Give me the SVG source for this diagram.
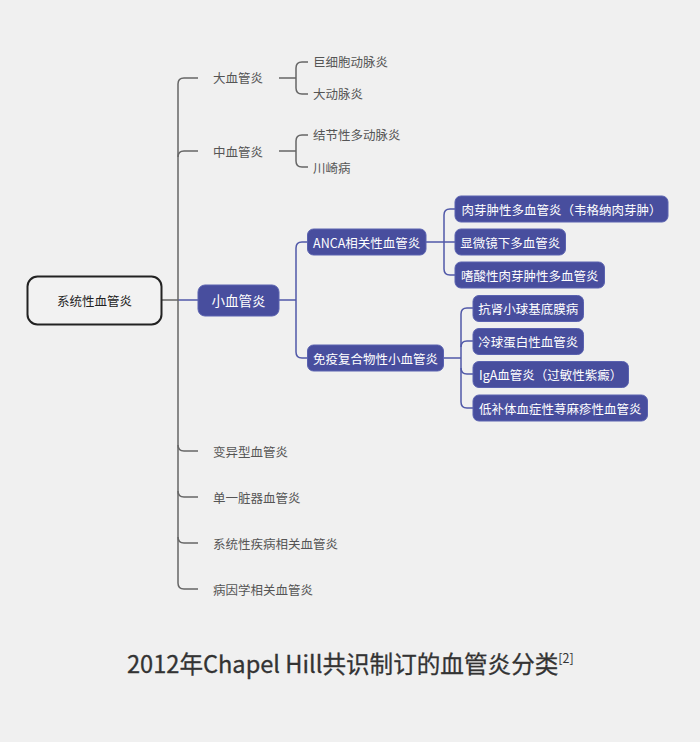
<svg xmlns="http://www.w3.org/2000/svg" width="700" height="742" viewBox="0 0 700 742">
<style>
.t{font-family:"Noto Sans CJK SC","Noto Sans",sans-serif;font-size:12.5px;fill:#555;dominant-baseline:central}
.w{font-family:"Noto Sans CJK SC","Noto Sans",sans-serif;font-size:12.5px;fill:#fff;dominant-baseline:central;text-anchor:middle}
.b{fill:#484e9e;stroke:#5a62b0;stroke-width:1}
.g{fill:none;stroke:#666;stroke-width:1.5}
.bl{fill:none;stroke:#5058a8;stroke-width:1.5}
</style>
<rect width="700" height="742" fill="#f0f0f0"/>
<g id="connectors">
<path class="g" d="M162,300H178"/>
<path class="bl" d="M178,300H198"/>
<path class="g" d="M198,78H184Q178,78 178,84V583Q178,589 184,589H198"/>
<path class="g" d="M178,157Q178,151 184,151H198"/>
<path class="g" d="M178,445Q178,451 184,451H198"/>
<path class="g" d="M178,491Q178,497 184,497H198"/>
<path class="g" d="M178,537Q178,543 184,543H198"/>
<path class="g" d="M279,78H296"/>
<path class="g" d="M308,62H302Q296,62 296,68V88Q296,94 302,94H308"/>
<path class="g" d="M279,151H296"/>
<path class="g" d="M308,135H302Q296,135 296,141V161Q296,167 302,167H308"/>
<path class="bl" d="M279,300H296"/>
<path class="bl" d="M307.5,242H302Q296,242 296,248V352Q296,358 302,358H307.5"/>
<path class="bl" d="M426,242H455"/>
<path class="bl" d="M455,209H450Q444,209 444,215V269Q444,275 450,275H455"/>
<path class="bl" d="M444,358H461"/>
<path class="bl" d="M473,308H467Q461,308 461,314V402Q461,408 467,408H473"/>
<path class="bl" d="M461,347Q461,341 467,341H473"/>
<path class="bl" d="M461,368Q461,374 467,374H473"/>
</g>
<g id="root"><rect x="27.5" y="276.5" width="134" height="48" rx="10" fill="#f2f2f2" stroke="#222" stroke-width="2"/><text class="t" x="94.5" y="300.5" text-anchor="middle" style="fill:#222">系统性血管炎</text></g>
<g id="n-large"><text class="t" x="213" y="77">大血管炎</text></g>
<g id="n-gca"><text class="t" x="313" y="61">巨细胞动脉炎</text></g>
<g id="n-takayasu"><text class="t" x="313" y="93">大动脉炎</text></g>
<g id="n-medium"><text class="t" x="213" y="151">中血管炎</text></g>
<g id="n-pan"><text class="t" x="313" y="134">结节性多动脉炎</text></g>
<g id="n-kawasaki"><text class="t" x="313" y="167">川崎病</text></g>
<g id="n-small"><rect class="b" x="198" y="285" width="81" height="31" rx="7"/><text class="w" x="238.5" y="300" style="font-size:13.5px">小血管炎</text></g>
<g id="n-anca"><rect class="b" x="307.5" y="229" width="118.5" height="26" rx="6"/><text class="w" x="366.7" y="242">ANCA相关性血管炎</text></g>
<g id="n-gpa"><rect class="b" x="455" y="196" width="213" height="26" rx="6"/><text class="w" x="561.5" y="209">肉芽肿性多血管炎（韦格纳肉芽肿）</text></g>
<g id="n-mpa"><rect class="b" x="455" y="229" width="110.5" height="26" rx="6"/><text class="w" x="510.2" y="242">显微镜下多血管炎</text></g>
<g id="n-egpa"><rect class="b" x="455" y="262" width="149.5" height="26" rx="6"/><text class="w" x="529.7" y="275">嗜酸性肉芽肿性多血管炎</text></g>
<g id="n-immune"><rect class="b" x="307.5" y="345" width="136" height="26" rx="6"/><text class="w" x="375.5" y="358">免疫复合物性小血管炎</text></g>
<g id="n-gbm"><rect class="b" x="473" y="295.5" width="110.5" height="26" rx="6"/><text class="w" x="528.2" y="308.5">抗肾小球基底膜病</text></g>
<g id="n-cryo"><rect class="b" x="473" y="328.5" width="110.5" height="26" rx="6"/><text class="w" x="528.2" y="341.5">冷球蛋白性血管炎</text></g>
<g id="n-iga"><rect class="b" x="473" y="361.5" width="155.5" height="26" rx="6"/><text class="w" x="550.7" y="374.5">IgA血管炎（过敏性紫癜）</text></g>
<g id="n-huv"><rect class="b" x="473" y="395" width="174.5" height="26" rx="6"/><text class="w" x="560.2" y="408">低补体血症性荨麻疹性血管炎</text></g>
<g id="n-variable"><text class="t" x="213" y="451">变异型血管炎</text></g>
<g id="n-single"><text class="t" x="213" y="497">单一脏器血管炎</text></g>
<g id="n-systemic"><text class="t" x="213" y="543">系统性疾病相关血管炎</text></g>
<g id="n-etiology"><text class="t" x="213" y="589">病因学相关血管炎</text></g>
<text x="127" y="673" font-family="Noto Sans CJK SC,Noto Sans,sans-serif" font-size="23.6" fill="#333" stroke="#333" stroke-width="0.3">2012年Chapel Hill共识制订的血管炎分类<tspan font-size="12.5" dy="-10" stroke-width="0">[2]</tspan></text>
</svg>
